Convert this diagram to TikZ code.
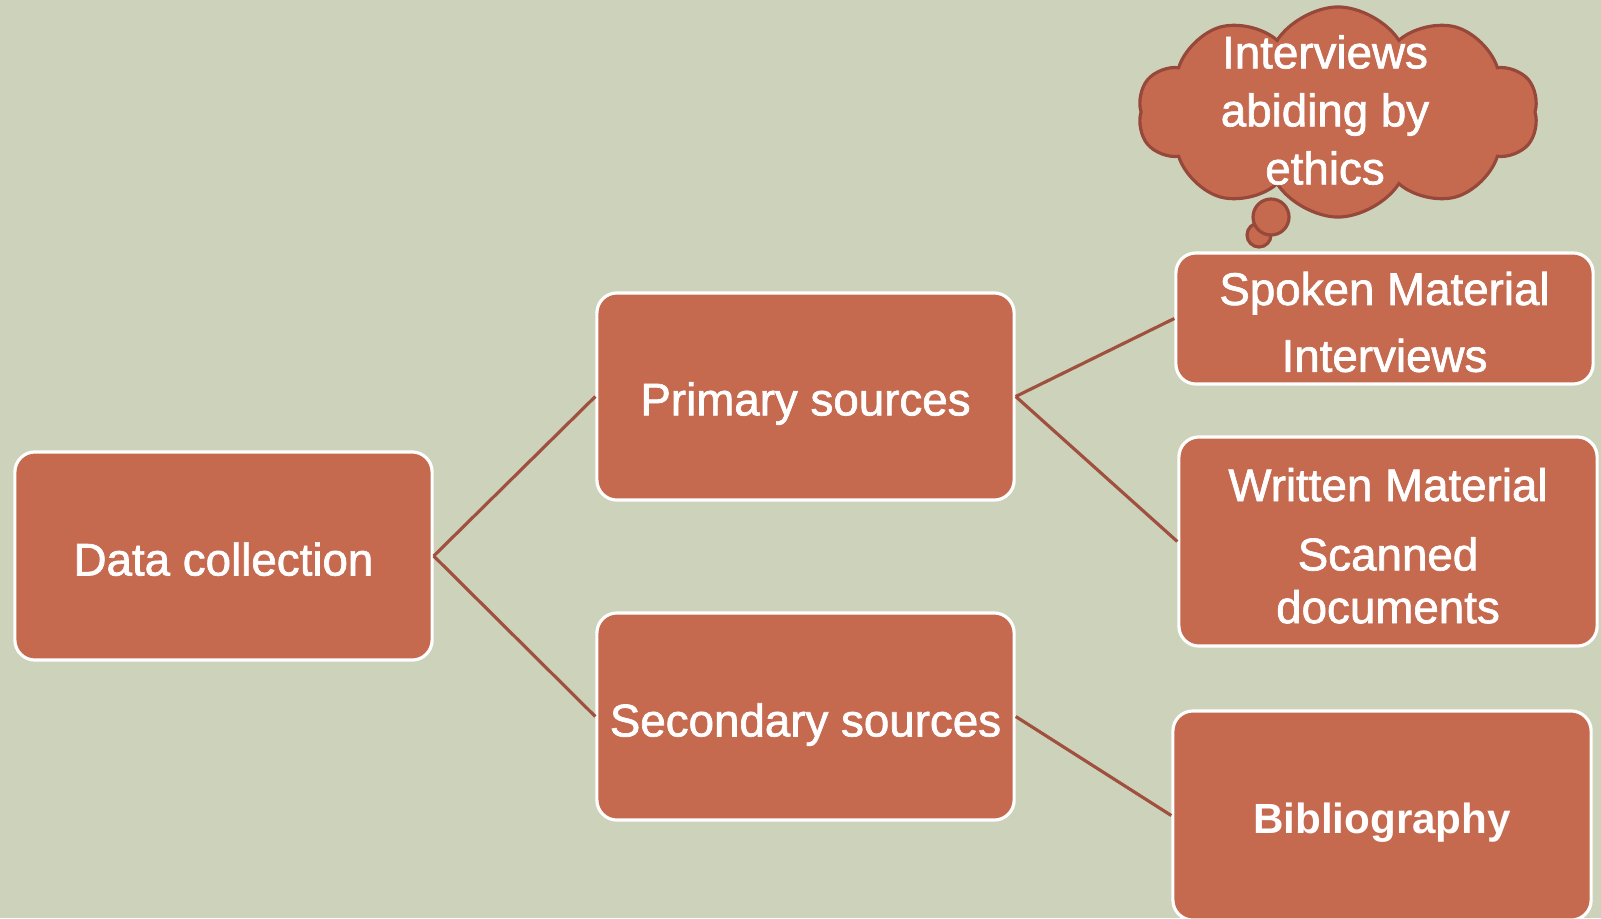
\documentclass[tikz,border=0pt]{standalone}
\usepackage{fontspec}
\setmainfont{Liberation Sans}
\newfontfamily\boxfont[FakeBold=1.5]{Liberation Sans}
\usetikzlibrary{shapes.symbols}
\definecolor{bgsage}{HTML}{CDD3BA}
\definecolor{boxfill}{HTML}{C5694F}
\definecolor{linkcol}{HTML}{A0503F}
\definecolor{cloudedge}{HTML}{96483A}
\begin{document}
\begin{tikzpicture}[x=0.01cm,y=-0.01cm,
  box/.style={draw=white, line width=0.9pt, fill=boxfill, rounded corners=0.2cm, inner sep=0pt},
  boxtext/.style={text=white, align=center, inner sep=0pt,
    font=\boxfont\fontsize{13}{16}\selectfont},
  link/.style={draw=linkcol, line width=0.9pt},
  bubble/.style={circle, draw=cloudedge, fill=boxfill, line width=0.9pt, inner sep=0pt}]
\clip (0,0) rectangle (1601,918);
\fill[bgsage] (0,0) rectangle (1601,918);

% tree boxes
\node[box, minimum width=4.17cm, minimum height=2.08cm] (data) at (223.5,556) {};
\node[box, minimum width=4.17cm, minimum height=2.07cm] (primary) at (805.5,396.5) {};
\node[box, minimum width=4.17cm, minimum height=2.07cm] (secondary) at (805.5,716.5) {};
\node[box, minimum width=4.17cm, minimum height=1.31cm] (spoken) at (1384.5,318.5) {};
\node[box, minimum width=4.18cm, minimum height=2.09cm] (written) at (1388,541.5) {};
\node[box, minimum width=4.18cm, minimum height=2.09cm] (biblio) at (1382,815.5) {};

% box texts
\node[boxtext] (datatext) at ([yshift=-0.9pt]data.center) {Data collection};
\node[boxtext] (primarytext) at ([yshift=-2pt]primary.center) {Primary sources};
\node[boxtext] (secondarytext) at ([yshift=-2.3pt]secondary.center) {Secondary sources};
\node[boxtext] (spokentext) at ([yshift=-1pt]spoken.center) {Spoken Material\\[3pt]Interviews};
\node[boxtext, font=\boxfont\fontsize{13}{15}\selectfont] (writtentext) at ([yshift=-1.2pt]written.center) {Written Material\\[4.7pt]Scanned\\documents};
\node[boxtext, font=\fontsize{12}{15}\selectfont\bfseries] (bibliotext) at ([yshift=-2pt]biblio.center) {Bibliography};

% connectors
\draw[link] (data.east) -- (primary.west);
\draw[link] (data.east) -- (secondary.west);
\draw[link] (primary.east) -- (spoken.west);
\draw[link] (primary.east) -- (written.west);
\draw[link] (secondary.east) -- (biblio.west);

% thought cloud
\node[bubble, minimum size=0.24cm] (puffsmall) at (1259,235) {};
\node[bubble, minimum size=0.36cm] (puffbig) at (1271,217) {};
\node[cloud, cloud puffs=10, cloud puff arc=115, aspect=2,
  draw=cloudedge, fill=boxfill, line width=0.9pt,
  minimum width=4.0cm, minimum height=2.1cm, inner sep=0pt] (thought) at (1338,112) {};
\node[boxtext, font=\boxfont\fontsize{13}{16.5}\selectfont] (thoughttext) at (1325,110) {Interviews\\abiding by\\ethics};
\end{tikzpicture}
\end{document}
